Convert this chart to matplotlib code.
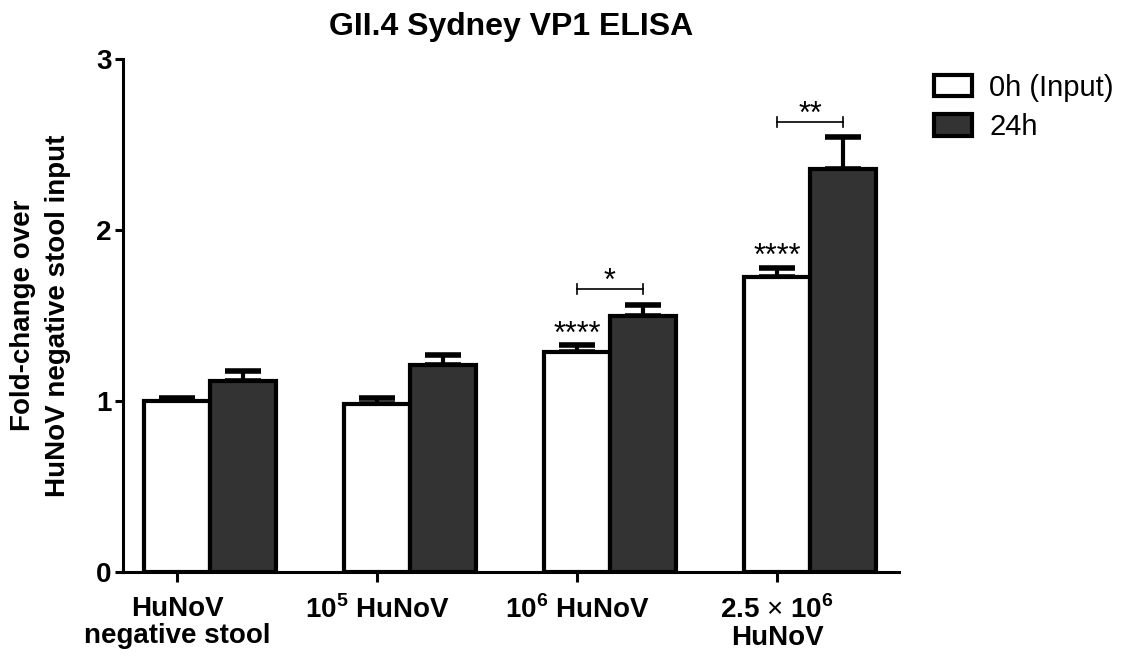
# GII.4 Sydney VP1 ELISA bar chart

import numpy as np
import matplotlib.pyplot as plt

plt.rcParams['font.family'] = ['Liberation Sans', 'DejaVu Sans']
plt.rcParams['mathtext.fontset'] = 'custom'
plt.rcParams['mathtext.rm'] = 'Liberation Sans'
plt.rcParams['mathtext.bf'] = 'Liberation Sans:bold'

groups = ['HuNoV\nnegative stool', r'10$^{\mathbf{5}}$ HuNoV',
          r'10$^{\mathbf{6}}$ HuNoV', '2.5 $\\times$ 10$^{\\mathbf{6}}$\nHuNoV']
input_mean = [1.00, 0.98, 1.285, 1.725]
input_err = [0.02, 0.04, 0.04, 0.055]
h24_mean = [1.115, 1.21, 1.497, 2.357]
h24_err = [0.06, 0.06, 0.065, 0.185]

# significance: stars over input bar, and brackets between 0h / 24h
input_stars = ['', '', '****', '****']
bracket_stars = ['', '', '*', '**']
bracket_y = [0, 0, 1.655, 2.63]

x = np.arange(len(groups))
w = 0.33

fig = plt.figure(figsize=(11.23, 6.66), dpi=100)
ax = fig.add_axes([0.1095, 0.1411, 0.691, 0.7703])

b1 = ax.bar(x, input_mean, w, color='white', edgecolor='black', linewidth=3,
            label='0h (Input)', zorder=3)
b2 = ax.bar(x + w, h24_mean, w, color='#333333', edgecolor='black', linewidth=3,
            label='24h', zorder=3)
ax.errorbar(x, input_mean, yerr=[np.zeros(4), input_err], fmt='none',
            ecolor='black', elinewidth=3, capsize=13, capthick=4, zorder=2)
ax.errorbar(x + w, h24_mean, yerr=[np.zeros(4), h24_err], fmt='none',
            ecolor='black', elinewidth=3, capsize=13, capthick=4, zorder=2)

for i in range(len(groups)):
    if input_stars[i]:
        ax.text(x[i], input_mean[i] + input_err[i] - 0.025, input_stars[i],
                ha='center', va='bottom', fontsize=22)
    if bracket_stars[i]:
        y = bracket_y[i]
        ax.plot([x[i], x[i] + w], [y, y], color='black', lw=1.2)
        ax.plot([x[i], x[i]], [y - 0.03, y + 0.03], color='black', lw=1.2)
        ax.plot([x[i] + w, x[i] + w], [y - 0.03, y + 0.03], color='black', lw=1.2)
        ax.text(x[i] + w / 2, y - 0.045, bracket_stars[i],
                ha='center', va='bottom', fontsize=22)

ax.set_xlim(-0.27, 3.61)
ax.set_ylim(0, 3)
ax.set_yticks([0, 1, 2, 3])
ax.set_xticks(x)
ax.set_xticklabels(groups, fontsize=20, fontweight='bold', linespacing=1.05)
ax.tick_params(axis='y', labelsize=20, width=2.2, length=6, pad=2)
ax.tick_params(axis='x', width=2.2, length=7, pad=10)
for lab in ax.get_yticklabels():
    lab.set_fontweight('bold')
for s in ['top', 'right']:
    ax.spines[s].set_visible(False)
for s in ['left', 'bottom']:
    ax.spines[s].set_linewidth(2.2)

ax.set_ylabel('Fold-change over\nHuNoV negative stool input', fontsize=20,
              fontweight='bold', labelpad=18, linespacing=1.45)
ax.set_title('GII.4 Sydney VP1 ELISA', fontsize=23, fontweight='bold', pad=17)

fig.legend(handles=[b1, b2], loc='upper left', bbox_to_anchor=(0.808, 0.929),
           frameon=False, fontsize=21, handlelength=1.3, handleheight=0.75,
           handletextpad=0.6, labelspacing=0.4)

fig.savefig('out.png', dpi=100)
